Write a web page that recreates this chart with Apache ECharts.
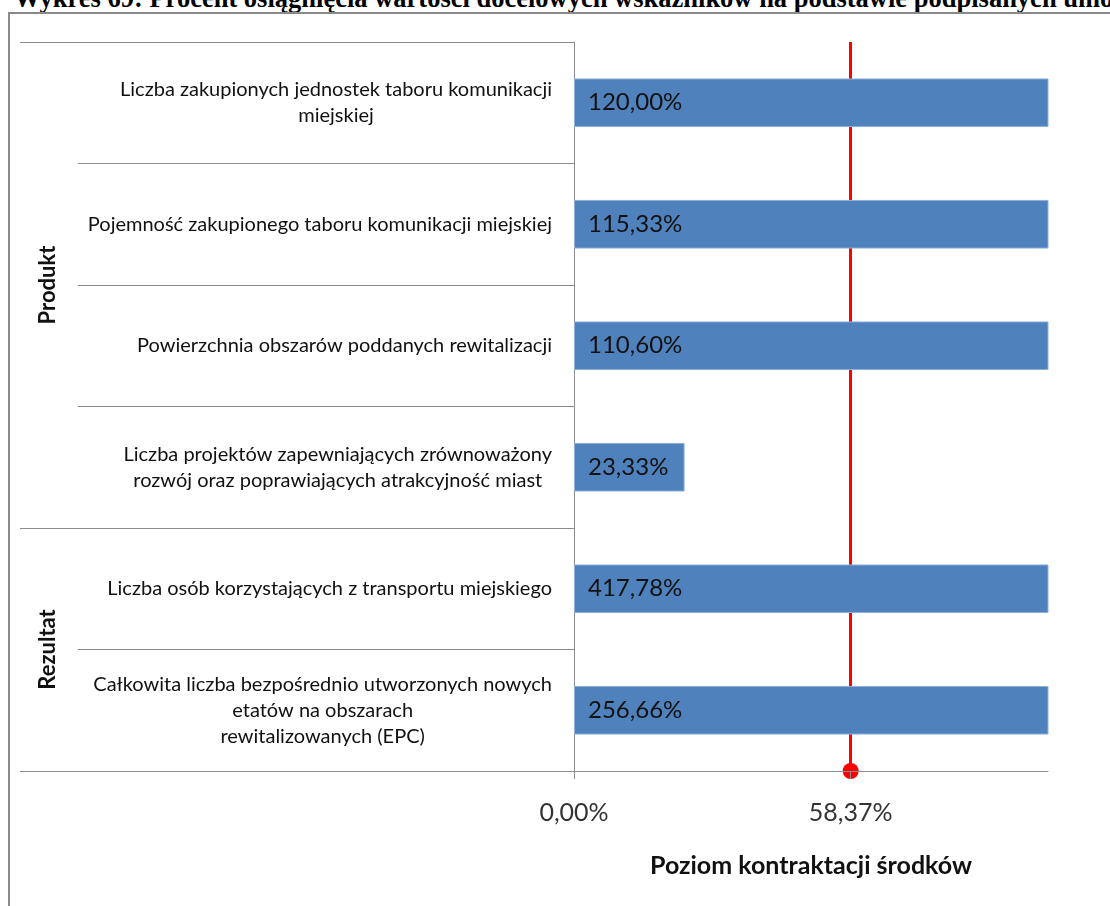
<!DOCTYPE html>
<html>
<head>
<meta charset="utf-8">
<script src="https://cdn.jsdelivr.net/npm/echarts@6/dist/echarts.min.js"></script>
<style>
  html, body { margin: 0; padding: 0; width: 1110px; height: 906px; overflow: hidden; background: #fff; }
  #title { position: absolute; left: 14px; top: -15px; white-space: nowrap; font-family: "Liberation Serif", serif; font-weight: bold; font-size: 26.5px; line-height: 26.5px; color: #000; }
  #frame { position: absolute; left: 8px; top: 12px; width: 1200px; height: 1000px; border: 2px solid #8a8a8a; box-sizing: border-box; pointer-events: none; }
  #chart { position: absolute; left: 0; top: 0; width: 1110px; height: 906px; }
</style>
</head>
<body>
<div id="title">Wykres 69: Procent osiągnięcia wartości docelowych wskaźników na podstawie podpisanych umów</div>
<div id="frame"></div>
<div id="chart"></div>
<script>
// ---- data ----
const categories = [
  'Liczba zakupionych jednostek taboru komunikacji\nmiejskiej',
  'Pojemność zakupionego taboru komunikacji miejskiej',
  'Powierzchnia obszarów poddanych rewitalizacji',
  'Liczba projektów zapewniających zrównoważony\nrozwój oraz poprawiających atrakcyjność miast',
  'Liczba osób korzystających z transportu miejskiego',
  'Całkowita liczba bezpośrednio utworzonych nowych\netatów na obszarach\nrewitalizowanych (EPC)'
];
const values = [120.00, 115.33, 110.60, 23.33, 417.78, 256.66];
const groupLabels = ['', '', 'Produkt', '', '', 'Rezultat', ''];
const groupBoundaries = [0, 4, 6];
const contractLevel = 58.37;
const xTickValues = [0, contractLevel];
const axisTitle = 'Poziom kontraktacji środków';

const pct = v => v.toFixed(2).replace('.', ',') + '%';
const FONT = 'Lato';
const GRID_COLOR = '#8c8c8c';

const chart = echarts.init(document.getElementById('chart'), null, { renderer: 'canvas' });
chart.setOption({
  animation: false,
  grid: { left: 574, right: 62, top: 42, bottom: 135 },
  xAxis: {
    type: 'value', min: 0, max: 100, z: 10,
    axisLine: { show: true, lineStyle: { color: GRID_COLOR, width: 1 } },
    axisTick: { show: true, customValues: xTickValues, length: 8, lineStyle: { color: GRID_COLOR } },
    axisLabel: { customValues: xTickValues, formatter: v => pct(v), margin: 29, fontSize: 25, color: '#333', fontFamily: FONT },
    splitLine: { show: false },
    name: axisTitle, nameLocation: 'middle', nameGap: 82,
    nameTextStyle: { fontSize: 25, fontWeight: 'bold', color: '#111', fontFamily: FONT }
  },
  yAxis: [
    {
      type: 'category', data: categories, inverse: true, position: 'left',
      axisLine: { show: true, lineStyle: { color: GRID_COLOR } },
      axisTick: { show: true, length: 496, lineStyle: { color: GRID_COLOR } },
      axisLabel: {
        margin: 22, interval: 0,
        formatter: v => v.split('\n').map(l => '{c|' + l + '}').join('\n'),
        rich: { c: { align: 'center', fontSize: 20, lineHeight: 26, fontFamily: FONT, color: '#111' } }
      },
      splitLine: { show: false }
    },
    {
      type: 'category', data: groupLabels, inverse: true, position: 'left', boundaryGap: false,
      axisLine: { show: false },
      axisTick: { show: true, length: 554, interval: (i) => groupBoundaries.includes(i), lineStyle: { color: GRID_COLOR } },
      axisLabel: { interval: 0, rotate: 90, margin: 515, fontSize: 22, fontWeight: 'bold', color: '#111', fontFamily: FONT },
      splitLine: { show: false }
    }
  ],
  series: [{
    type: 'bar', yAxisIndex: 0, data: values, barWidth: '40%', z: 2,
    itemStyle: { color: '#4F81BD', borderColor: '#8fb0da', borderWidth: 1 },
    label: { show: true, position: 'insideLeft', distance: 14, formatter: p => pct(p.value), fontSize: 24, color: '#111', fontFamily: FONT },
    emphasis: { disabled: true },
    markLine: {
      silent: true, z: 1,
      symbol: ['none', 'circle'], symbolSize: 16,
      label: { show: false },
      lineStyle: { color: '#ff0000', width: 3, type: 'solid' },
      emphasis: { disabled: true },
      data: [{ xAxis: contractLevel }]
    }
  }]
});
</script>
</body>
</html>
